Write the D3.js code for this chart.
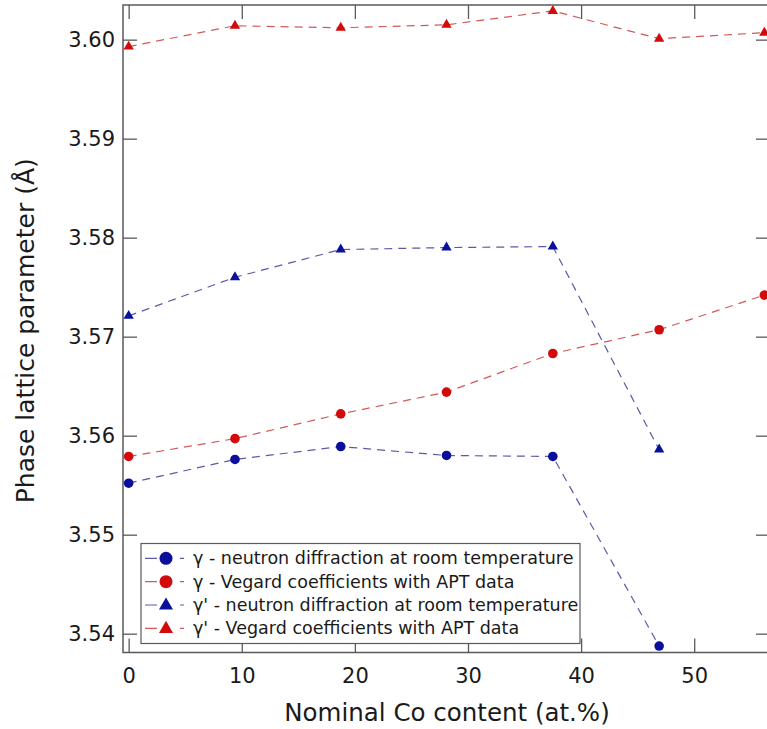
<!DOCTYPE html>
<html>
<head>
<meta charset="utf-8">
<script src="https://cdn.jsdelivr.net/npm/d3@7/dist/d3.min.js"></script>
<style>
  html, body { margin: 0; padding: 0; background: #fff; overflow: hidden; }
  svg { display: block; font-family: "DejaVu Sans", sans-serif; }
</style>
</head>
<body>
<svg id="chart" width="767" height="729"></svg>
<script>
// ---- data ----
const coContent = [0, 9.4, 18.75, 28.1, 37.5, 46.9, 56.2];
const gammaNeutron   = [3.5552, 3.5576, 3.5589, 3.5580, 3.5579, 3.53875, null];
const gammaVegard    = [3.5579, 3.5597, 3.5622, 3.5644, 3.5683, 3.5707, 3.5742];
const gammaPNeutron  = [3.5721, 3.5760, 3.5788, 3.5790, 3.5791, 3.5586, null];
const gammaPVegard   = [3.5993, 3.6014, 3.6012, 3.6015, 3.6029, 3.6001, 3.6007];
const seriesNames = [
  "γ - neutron diffraction at room temperature",
  "γ - Vegard coefficients with APT data",
  "γ' - neutron diffraction at room temperature",
  "γ' - Vegard coefficients with APT data"
];
const xTicks = [0, 10, 20, 30, 40, 50, 60];
const yTicks = [3.54, 3.55, 3.56, 3.57, 3.58, 3.59, 3.60];
const xLabel = "Nominal Co content (at.%)";
const yLabel = "Phase lattice parameter (Å)";

const blue = "#0a0f9c", red = "#d20a0a";
const blueLine = "#5a5aa8", redLine = "#d05a5a";
const series = [
  {name: seriesNames[0], values: gammaNeutron,  color: blue, line: blueLine, shape: "circle"},
  {name: seriesNames[1], values: gammaVegard,   color: red,  line: redLine,  shape: "circle"},
  {name: seriesNames[2], values: gammaPNeutron, color: blue, line: blueLine, shape: "triangle"},
  {name: seriesNames[3], values: gammaPVegard,  color: red,  line: redLine,  shape: "triangle"}
];

// ---- layout ----
const L = 123, R = 770, T = 5, B = 652.5;
const svg = d3.select("#chart");
const x = d3.scaleLinear().domain([-0.5, 56.7]).range([L, R]);
const y = d3.scaleLinear().domain([3.5381, 3.6035]).range([B, T]);
const frameColor = "#5a5a5a";
const tickLen = 14;

// frame
svg.append("rect").attr("x", L).attr("y", T).attr("width", R - L).attr("height", B - T)
  .attr("fill", "none").attr("stroke", frameColor).attr("stroke-width", 1.5);

function styleAxis(g) {
  g.select(".domain").remove();
  g.selectAll(".tick line").attr("stroke", frameColor).attr("stroke-width", 1.3);
  g.selectAll(".tick text").attr("fill", "#1a1a1a").attr("font-size", 21)
    .attr("font-family", "DejaVu Sans, sans-serif");
}
const xt = xTicks.filter(v => x(v) <= R);
svg.append("g").attr("transform", `translate(0,${B})`)
  .call(d3.axisBottom(x).tickValues(xt).tickSize(-tickLen).tickPadding(16).tickFormat(d3.format("d")))
  .call(styleAxis);
svg.append("g").attr("transform", `translate(0,${T})`)
  .call(d3.axisTop(x).tickValues(xt).tickSize(-tickLen).tickFormat(""))
  .call(styleAxis);
svg.append("g").attr("transform", `translate(${L},0)`)
  .call(d3.axisLeft(y).tickValues(yTicks).tickSize(-tickLen).tickPadding(8).tickFormat(d3.format(".2f")))
  .call(styleAxis);
svg.append("g").attr("transform", `translate(${R},0)`)
  .call(d3.axisRight(y).tickValues(yTicks).tickSize(-tickLen).tickFormat(""))
  .call(styleAxis);

// axis titles
svg.append("text").attr("x", 447).attr("y", 721).attr("text-anchor", "middle")
  .attr("font-size", 24.5).attr("fill", "#1a1a1a").text(xLabel);
svg.append("text").attr("transform", `translate(34,${(T + B) / 2 + 2}) rotate(-90)`)
  .attr("text-anchor", "middle").attr("font-size", 25).attr("fill", "#1a1a1a").text(yLabel);

// lines and markers
const line = d3.line().defined(d => d[1] != null).x(d => x(d[0])).y(d => y(d[1]));
const tri = d3.symbol().type(d3.symbolTriangle);
const plot = svg.append("g");
series.forEach(s => {
  const pts = coContent.map((c, i) => [c, s.values[i]]).filter(d => d[1] != null);
  plot.append("path").datum(pts).attr("d", line).attr("fill", "none")
    .attr("stroke", s.line).attr("stroke-width", 1.2).attr("stroke-dasharray", "8,6");
  const m = plot.append("g").selectAll("g").data(pts).join("g")
    .attr("transform", d => `translate(${x(d[0])},${y(d[1])})`);
  if (s.shape === "circle") {
    m.append("circle").attr("r", 4.8).attr("fill", s.color);
  } else {
    m.append("path").attr("d", tri.size(46)()).attr("fill", s.color);
  }
});

// legend
const lg = svg.append("g");
lg.append("rect").attr("x", 141).attr("y", 543.5).attr("width", 439).attr("height", 100)
  .attr("fill", "#fff").attr("stroke", frameColor).attr("stroke-width", 1.2);
series.forEach((s, i) => {
  const cy = 558.3 + i * 23.35;
  lg.append("line").attr("x1", 145).attr("x2", 184).attr("y1", cy).attr("y2", cy)
    .attr("stroke", s.line).attr("stroke-width", 1.2).attr("stroke-dasharray", "12,23");
  if (s.shape === "circle") {
    lg.append("circle").attr("cx", 166).attr("cy", cy).attr("r", 6.5).attr("fill", s.color);
  } else {
    lg.append("path").attr("transform", `translate(166,${cy + 0.5})`)
      .attr("d", tri.size(85)()).attr("fill", s.color);
  }
  lg.append("text").attr("x", 193).attr("y", cy + 6).attr("font-size", 17.5)
    .attr("fill", "#1a1a1a").text(s.name);
});
</script>
</body>
</html>
